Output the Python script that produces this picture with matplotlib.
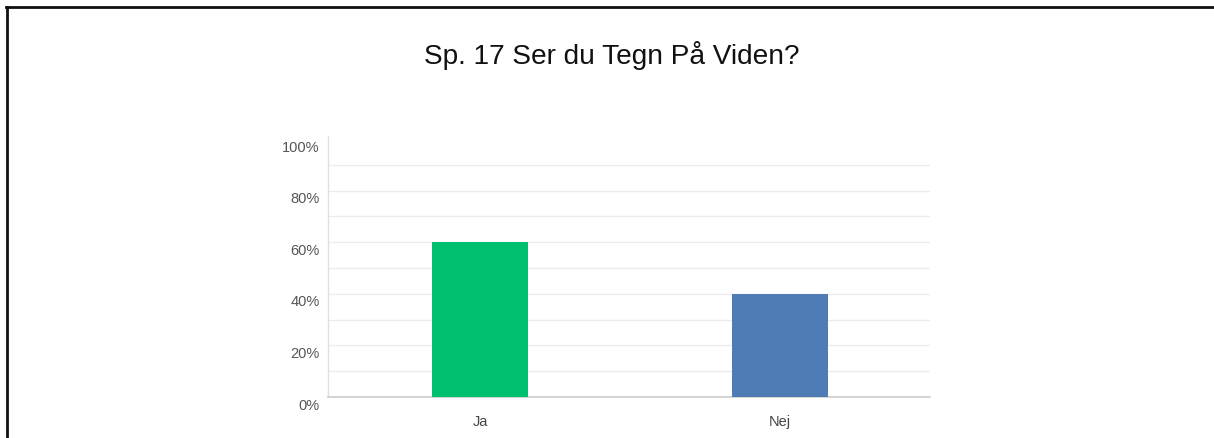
import matplotlib
matplotlib.use("Agg")
import matplotlib.pyplot as plt
from matplotlib.transforms import ScaledTranslation
from matplotlib.ticker import FuncFormatter

plt.rcParams['font.family'] = ['Liberation Sans', 'DejaVu Sans']

title = "Sp. 17 Ser du Tegn På Viden?"
categories = ["Ja", "Nej"]
values = [60, 40]
colors = ["#00BF6F", "#507CB6"]
yticks = [0, 20, 40, 60, 80, 100]
gridlines = [10, 20, 30, 40, 50, 60, 70, 80, 90]

fig = plt.figure(figsize=(12.14, 4.38), dpi=100)
ax = fig.add_axes([328/1214, 1-397/438, 602/1214, 258/438])

x = list(range(len(categories)))
ax.bar(x, values, width=0.32, color=colors, zorder=3)
ax.set_xlim(-0.507, 1.5)
ax.set_ylim(0, 100)

ax.set_xticks(x)
ax.set_xticklabels(categories)
ax.set_yticks(yticks)
ax.yaxis.set_major_formatter(FuncFormatter(lambda v, p: f"{int(v)}%"))
for yv in gridlines:
    ax.axhline(yv, color="#ececec", lw=1, zorder=1)

ax.tick_params(axis='both', which='both', length=0)
ax.tick_params(axis='x', pad=13, labelsize=10.5, labelcolor="#444444")
ax.tick_params(axis='y', pad=6, labelsize=10.5, labelcolor="#555555")

for s in ["top", "right"]:
    ax.spines[s].set_visible(False)
ax.spines["left"].set_color("#e0e0e0")
ax.spines["bottom"].set_color("#cccccc")
ax.spines["left"].set_linewidth(1)
ax.spines["bottom"].set_linewidth(1.2)
ax.spines["left"].set_bounds(0, 101)

off = ScaledTranslation(0, -7/100, fig.dpi_scale_trans)
for lab in ax.get_yticklabels():
    lab.set_transform(lab.get_transform() + off)

fig.text(612/1214, 1-56/438, title, ha="center", va="center", fontsize=20.2, color="#111111")

# outer border (left and top)
fig.add_artist(plt.Line2D([7/1214, 7/1214], [0, 1-7/438], transform=fig.transFigure, color="#111111", lw=2))
fig.add_artist(plt.Line2D([6/1214, 1], [1-7/438, 1-7/438], transform=fig.transFigure, color="#111111", lw=2))

fig.savefig("out.png", dpi=100)
